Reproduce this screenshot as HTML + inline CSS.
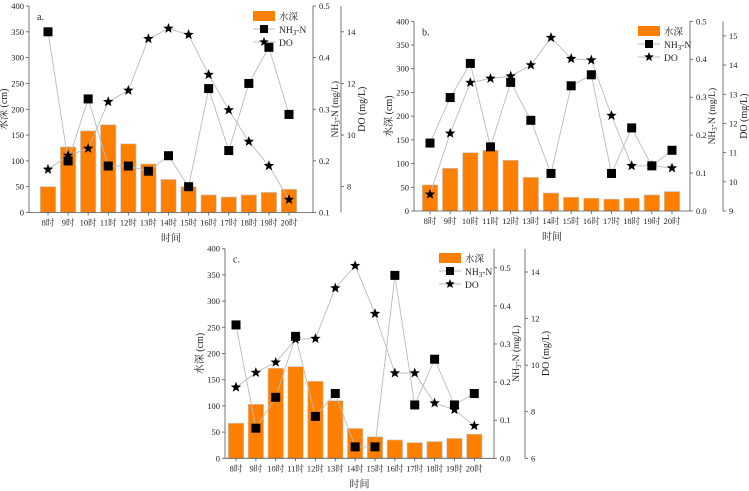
<!DOCTYPE html>
<html><head><meta charset="utf-8">
<style>
html,body{margin:0;padding:0;background:#fff;}
svg{display:block;font-family:"Liberation Serif","Noto Serif CJK SC",serif;}
</style></head>
<body>
<svg id="chart" width="749" height="491" viewBox="0 0 749 491"></svg>
<script>
const categories=["8时","9时","10时","11时","12时","13时","14时","15时","16时","17时","18时","19时","20时"];
const depthA=[50,127,158,170,133,94,64,50,34,30,34,39,45];
const nh3A=[0.45,0.2,0.32,0.19,0.19,0.18,0.21,0.15,0.34,0.22,0.35,0.42,0.29];
const doA=[8.67,9.21,9.48,11.29,11.73,13.73,14.13,13.89,12.34,10.97,9.75,8.81,7.5];
const depthB=[55,90,123,128,107,71,38,29,27,25,27,34,41];
const nh3B=[0.179,0.299,0.389,0.169,0.339,0.239,0.099,0.33,0.359,0.099,0.219,0.119,0.16];
const doB=[9.57,11.66,13.4,13.54,13.62,14.0,14.94,14.22,14.17,12.27,10.55,10.55,10.47];
const depthC=[67,103,172,175,147,110,57,41,35,30,32,38,46];
const nh3C=[0.35,0.079,0.16,0.32,0.11,0.17,0.03,0.03,0.48,0.14,0.26,0.14,0.17];
const doC=[9.05,9.68,10.12,11.11,11.14,13.31,14.27,12.21,9.66,9.66,8.37,8.09,7.4];
const depthTicks=[0,50,100,150,200,250,300,350,400];
const nh3TicksA=[0.1,0.2,0.3,0.4,0.5];
const nh3TicksB=[0.0,0.1,0.2,0.3,0.4,0.5];
const nh3TicksC=[0.0,0.1,0.2,0.3,0.4,0.5];
const doTicksA=[8,10,12,14];
const doTicksB=[9,10,11,12,13,14,15];
const doTicksC=[6,8,10,12,14];

const NS="http://www.w3.org/2000/svg";
const svg=document.getElementById('chart');
function mk(tag,attrs,parent,txt){const e=document.createElementNS(NS,tag);for(const k in attrs)e.setAttribute(k,attrs[k]);if(txt!==undefined)e.textContent=txt;(parent||svg).appendChild(e);return e;}
function star(cx,cy,r){let p=[];for(let i=0;i<10;i++){const a=-Math.PI/2+i*Math.PI/5;const rr=i%2?r*0.42:r;p.push((cx+rr*Math.cos(a)).toFixed(2)+','+(cy+rr*Math.sin(a)).toFixed(2));}return p.join(' ');}

function panel(o){
  const g=mk('g',{});
  
  
  const yL=v=>o.bot-(v/400)*(o.bot-o.top);
  const yN=v=>o.bot-(v-o.nMin)/(o.nMax-o.nMin)*(o.bot-o.top);
  const yD=v=>o.bot-(v-o.dMin)/(o.dMax-o.dMin)*(o.bot-o.top);
  const xC=i=>o.x0+i*(o.x1-o.x0)/(categories.length-1);
  // bars
  o.depth.forEach((v,i)=>{const r=mk('rect',{x:xC(i)-7.7,y:yL(v),width:15.4,height:o.bot-yL(v),fill:'#ff8000',stroke:'#c8c8c8','stroke-width':0.6},g);
    });
  // axes
  const ax=mk('g',{stroke:'#555','stroke-width':0.8},g);
  mk('line',{x1:o.left,y1:o.top,x2:o.left,y2:o.bot},ax);
  mk('line',{x1:o.left,y1:o.bot,x2:o.right,y2:o.bot},ax);
  mk('line',{x1:o.right,y1:o.top,x2:o.right,y2:o.bot},ax);
  mk('line',{x1:o.doX,y1:o.top,x2:o.doX,y2:o.bot},ax);
  depthTicks.forEach(t=>{mk('line',{x1:o.left-3,y1:yL(t),x2:o.left,y2:yL(t)},ax);
    const l=mk('text',{x:o.left-5,y:yL(t)+3,'font-size':8.5,'text-anchor':'end',fill:'#222',stroke:'none'},g,String(t));});
  o.nTicks.forEach(t=>{mk('line',{x1:o.right,y1:yN(t),x2:o.right+3,y2:yN(t)},ax);
    const l=mk('text',{x:o.right+6,y:yN(t)+3,'font-size':8.5,fill:'#222',stroke:'none'},g,t.toFixed(1));});
  o.dTicks.forEach(t=>{mk('line',{x1:o.doX,y1:yD(t),x2:o.doX+3,y2:yD(t)},ax);
    const l=mk('text',{x:o.doX+6,y:yD(t)+3,'font-size':8.5,fill:'#222',stroke:'none'},g,String(t));});
  categories.forEach((c,i)=>{mk('line',{x1:xC(i),y1:o.bot,x2:xC(i),y2:o.bot+3},ax);
    const l=mk('text',{x:xC(i),y:o.bot+13,'font-size':8.5,'text-anchor':'middle',fill:'#222'},g,c);});
  // lines
  const lp=(arr,f)=>arr.map((v,i)=>xC(i).toFixed(1)+','+f(v).toFixed(1)).join(' ');
  const l1=mk('polyline',{points:lp(o.nh3,yN),fill:'none',stroke:'#bbb','stroke-width':0.9},g);
  const l2=mk('polyline',{points:lp(o.dov,yD),fill:'none',stroke:'#bbb','stroke-width':0.9},g);
  o.nh3.forEach((v,i)=>{const m=mk('rect',{x:xC(i)-4.5,y:yN(v)-4.5,width:9,height:9,fill:'#000'},g);});
  o.dov.forEach((v,i)=>{const m=mk('polygon',{points:star(xC(i),yD(v),5.5),fill:'#000'},g);});
  // labels
  const pl=mk('text',{x:o.left+8,y:o.top+14,'font-size':10,fill:'#222'},g,o.id+'.');
  const mid=(o.top+o.bot)/2;
  const t1=mk('text',{x:o.left-22,y:mid,'font-size':10,'text-anchor':'middle',transform:`rotate(-90 ${o.left-22} ${mid})`,fill:'#222'},g,'水深 (cm)');
  const t2=mk('text',{x:o.right+25,y:mid,'font-size':9.5,'text-anchor':'middle',transform:`rotate(-90 ${o.right+25} ${mid})`,fill:'#222'},g,'');
  t2.innerHTML='NH<tspan font-size="7" dy="2">3</tspan><tspan dy="-2">-N (mg/L)</tspan>';
  const t3=mk('text',{x:o.doX+24,y:mid,'font-size':10,'text-anchor':'middle',transform:`rotate(-90 ${o.doX+24} ${mid})`,fill:'#222'},g,'DO (mg/L)');
  const xt=mk('text',{x:(o.left+o.right)/2,y:o.bot+29,'font-size':10,'text-anchor':'middle',fill:'#222'},g,'时间');
  // legend
  const lg=mk('g',{},g);
  const lx=o.lx,ly=o.ly;
  mk('rect',{x:lx,y:ly-5,width:22,height:10,fill:'#ff8000'},lg);
  mk('text',{x:lx+26,y:ly+4,'font-size':9.5,fill:'#222'},lg,'水深');
  mk('line',{x1:lx,y1:ly+13,x2:lx+22,y2:ly+13,stroke:'#bbb'},lg);
  mk('rect',{x:lx+7,y:ly+9,width:8,height:8,fill:'#000'},lg);
  const nt=mk('text',{x:lx+26,y:ly+17,'font-size':9.5,fill:'#222'},lg,'');nt.innerHTML='NH<tspan font-size="7" dy="2">3</tspan><tspan dy="-2">-N</tspan>';
  mk('line',{x1:lx,y1:ly+26,x2:lx+22,y2:ly+26,stroke:'#bbb'},lg);
  mk('polygon',{points:star(lx+11,ly+26,5),fill:'#000'},lg);
  mk('text',{x:lx+26,y:ly+30,'font-size':9.5,fill:'#222'},lg,'DO');
}
panel({id:'a',left:29,right:313,doX:341,top:6,bot:212.5,x0:48,x1:289,nMin:0.1,nMax:0.5,dMin:7,dMax:15,depth:depthA,nh3:nh3A,dov:doA,nTicks:nh3TicksA,dTicks:doTicksA,lx:253,ly:16});
panel({id:'b',left:414,right:690,doX:723,top:21.3,bot:211,x0:430,x1:672,nMin:0,nMax:0.5,dMin:9,dMax:15.5,depth:depthB,nh3:nh3B,dov:doB,nTicks:nh3TicksB,dTicks:doTicksB,lx:638,ly:31});
panel({id:'c',left:225,right:494,doX:525,top:248.7,bot:458.3,x0:236,x1:474.3,nMin:0,nMax:0.55,dMin:6,dMax:15,depth:depthC,nh3:nh3C,dov:doC,nTicks:nh3TicksC,dTicks:doTicksC,lx:439,ly:258});
</script>
</body></html>
